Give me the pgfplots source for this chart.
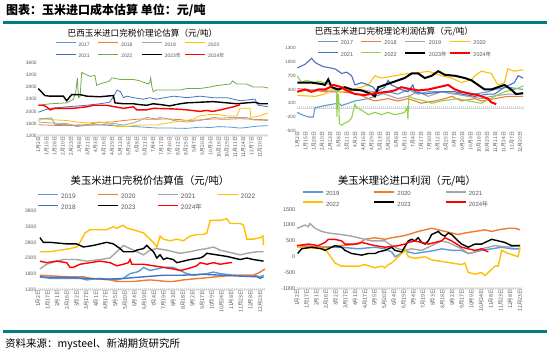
\documentclass[border=0pt]{standalone}
\usepackage{fontspec}
\setmainfont{Liberation Sans}
\newfontfamily\cjk{Noto Sans CJK SC}
\usepackage{pgfplots}
\pgfplotsset{compat=1.18}
\definecolor{cLB}{RGB}{91,155,213}
\definecolor{cOR}{RGB}{237,125,49}
\definecolor{cGR}{RGB}{165,165,165}
\definecolor{cYE}{RGB}{255,192,0}
\definecolor{cDB}{RGB}{68,114,196}
\definecolor{cGN}{RGB}{112,173,71}
\definecolor{cLG}{RGB}{146,208,80}
\definecolor{cRD}{RGB}{255,0,0}
\definecolor{cTL}{RGB}{0,125,125}
\definecolor{cTX}{RGB}{89,89,89}
\pgfplotsset{
  panel/.style={
    scale only axis, clip=false,
    axis line style={draw=none},
    tick style={draw=none},
    major tick length=0pt,
    /pgf/number format/assume math mode=true,
    /pgf/number format/1000 sep={},
    xticklabel style={rotate=90, anchor=east, inner sep=1pt, font=\cjk\fontsize{5}{5}\selectfont, text=cTX},
    yticklabel style={inner sep=1.5pt, font=\fontsize{4.8}{5}\selectfont, text=cTX},
    legend cell align=left,
    legend image code/.code={\draw[##1] (0pt,1.8pt) -- (20pt,1.8pt);},
    legend style={draw=none, fill=none, inner sep=0pt, font=\fontsize{5}{5}\selectfont, text=cTX,
       nodes={inner sep=0pt, text height=3.8pt, text depth=0pt},
       /tikz/every odd column/.append style={column sep=2.5pt},
       row sep=7pt},
  },
  th/.style={line width=0.8pt},
  tk/.style={line width=1.4pt},
}
\newcommand{\hatchaxis}[3]{%
  \draw[gray!30, line width=0.5pt] (axis cs:0,#1) -- (axis cs:#2,#1);
  \draw[gray!30, line width=#3, dash pattern=on 0.3pt off 1.7pt] (axis cs:0,#1) -- (axis cs:#2,#1);}
\begin{document}
\begin{tikzpicture}
\fill[white] (0pt,0pt) rectangle (550pt,350pt);
\node[anchor=west, inner sep=0pt] at (6pt,340pt) {\cjk\bfseries\fontsize{12}{13}\selectfont 图表：玉米进口成本估算\ 单位：元/吨};
\draw[cTL, line width=2.5pt] (3pt,327.3pt) -- (547pt,327.3pt);
\draw[cTL, line width=2.5pt] (3pt,18.3pt) -- (547pt,18.3pt);
\node[anchor=west, inner sep=0pt] at (5pt,5.5pt) {\cjk\fontsize{10.5}{11}\selectfont 资料来源：mysteel、新湖期货研究所};
\node[inner sep=0pt] at (142.5pt,316.5pt) {\cjk\fontsize{8.6}{9}\selectfont 巴西玉米进口完税价理论估算（元/吨）};
\node[inner sep=0pt] at (394pt,318pt) {\cjk\fontsize{8.6}{9}\selectfont 巴西玉米进口完税理论利润估算（元/吨）};
\node[inner sep=0pt] at (150pt,169pt) {\cjk\fontsize{10.3}{11}\selectfont 美玉米进口完税价估算值（元/吨）};
\node[inner sep=0pt] at (407pt,169pt) {\cjk\fontsize{10.3}{11}\selectfont 美玉米理论进口利润（元/吨）};

% ---------------- top left ----------------
\begin{axis}[panel, at={(38.3pt,214.3pt)}, anchor=south west, width=229.7pt, height=73pt,
  xmin=0, xmax=28, ymin=1200, ymax=3600, ytick={1200,1600,...,3600},
  xtick={0,...,27},
  xticklabels={1月2日,1月15日,1月28日,2月10日,2月23日,3月8日,3月21日,4月3日,4月16日,4月29日,5月13日,5月26日,6月8日,6月21日,7月4日,7月17日,7月30日,8月12日,8月25日,9月7日,9月20日,10月3日,10月16日,10月29日,11月11日,11月24日,12月7日,12月20日},
  legend columns=4,
  legend style={at={(0.073,1.28)}, anchor=north west},
  legend entries={\makebox[19.5pt][l]{2017},\makebox[19.5pt][l]{2018},\makebox[19.5pt][l]{2019},\makebox[19.5pt][l]{2020},\makebox[19.5pt][l]{2021},\makebox[19.5pt][l]{2022},\makebox[19.5pt][l]{2023{\cjk 年}},\makebox[19.5pt][l]{2024{\cjk 年}}},
]
\hatchaxis{1200}{28}{2.5pt}
\addplot[cLB, th] coordinates {(0,1750)(0.6,1760)(1.4,1780)(1.6,1780)(2.0,1580)(3,1560)(5,1540)(7,1560)(8.5,1540)(10,1520)(11.6,1500)(13,1480)(14,1460)(15,1450)(16.5,1450)(18,1440)(19.7,1480)(21,1470)(22,1500)(23.5,1480)(24.6,1450)(25.4,1470)(26.2,1500)(27,1520)(28,1530)};
\addplot[cOR, th] coordinates {(0,1560)(2,1540)(4,1540)(5.9,1560)(7.5,1640)(9,1650)(10.4,1700)(12.4,1750)(14,1740)(15.7,1750)(17.3,1730)(18.1,1700)(19.7,1720)(21.3,1750)(23,1740)(24.6,1760)(26.2,1740)(28,1720)};
\addplot[cGR, th] coordinates {(0,1650)(1.5,1620)(3.5,1600)(4.7,1500)(5.9,1540)(7.5,1560)(9.2,1600)(10.4,1550)(11.6,1620)(12.4,1700)(13.2,1800)(14.4,1750)(14.8,1800)(15.7,1760)(16.5,1700)(18.1,1650)(19.7,1700)(21.3,1800)(22.2,1780)(23.8,1800)(25.4,1800)(26.2,1720)(28,1700)};
\addplot[cYE, th] coordinates {(0,1700)(0.6,1750)(2,1720)(3.5,1700)(4.7,1650)(5.9,1620)(7.5,1650)(8.3,1600)(9.2,1550)(9.6,1500)(10.8,1500)(12.4,1550)(14.4,1550)(16.5,1650)(18.1,1700)(18.9,1750)(19.7,1850)(20.9,1900)(21.8,1900)(23,1850)(24.2,1850)(24.6,2100)(25.8,2100)(25.9,1800)(27,1850)(28,1950)};
\addplot[cDB, th] coordinates {(0,1970)(0.8,2050)(1.4,2100)(3.5,2150)(5.9,2200)(7.5,2250)(8.7,2300)(9.2,2500)(9.6,2700)(10,2650)(10.4,2450)(10.8,2500)(11.6,2450)(12.8,2400)(13.6,2450)(14.4,2400)(16.5,2500)(18.1,2450)(19.7,2500)(21.3,2450)(23,2450)(24.6,2350)(26.4,2400)(26.8,2200)(28,2150)};
\addplot[cGN, th] coordinates {(0,2200)(1.5,2250)(3.5,2280)(4.3,2400)(4.6,2700)(4.76,3100)(4.9,2450)(5.1,2500)(5.29,3280)(6.3,3150)(6.9,3180)(7.12,2850)(7.5,2900)(8.7,3000)(8.95,3100)(10,3050)(11.6,3050)(12.4,3000)(13.4,2900)(13.6,2950)(13.7,3100)(13.85,2800)(14.0,2650)(14.4,2700)(17.3,2700)(18.1,2750)(19.7,2750)(20.9,2800)(21.8,2850)(23.4,2900)(23.7,3000)(24.2,2900)(25.4,2900)(26.2,2800)(27.4,2800)(28,2770)};
\addplot[black, tk] coordinates {(0,2750)(0.8,2520)(1.4,2500)(3.05,2500)(3.46,2350)(4.07,2550)(5.1,2550)(5.9,2500)(7.5,2480)(8.3,2500)(9.15,2520)(9.35,2280)(10.4,2250)(11.6,2250)(12.4,2220)(13.2,2200)(14,2250)(15,2220)(16,2180)(17.3,2250)(18.1,2280)(19.7,2300)(21.3,2320)(22.2,2300)(23,2280)(24.2,2250)(25.4,2280)(26.4,2300)(27,2250)(28,2250)};
\addplot[cRD, tk] coordinates {(0,2200)(0.6,2200)(1.0,2150)(1.43,2050)(2.04,2100)(4.27,2100)(5.9,2150)(6.7,2200)(8.3,2200)(9.35,2150)(10.4,2100)(11.6,2150)(12.0,2050)(13.2,2050)(14.0,2100)(16.5,2080)(18.1,2050)(19.7,2000)(20.5,2030)(21.3,2000)(22.2,2050)(23,2100)(23.8,2150)(24.4,2200)(24.6,2220)};
\end{axis}

% ---------------- top right ----------------
\begin{axis}[panel, at={(297.3pt,219.3pt)}, anchor=south west, width=227pt, height=82.4pt,
  xmin=0, xmax=27.5, ymin=-500, ymax=1300, ytick={-500,-200,...,1300},
  yticklabel style={font=\fontsize{4.6}{5}\selectfont},
  xtick={0,...,27},
  xticklabels={1月2日,1月15日,1月28日,2月10日,2月23日,3月8日,3月21日,4月3日,4月16日,4月29日,5月13日,5月26日,6月8日,6月21日,7月4日,7月17日,7月30日,8月12日,8月25日,9月7日,9月20日,10月3日,10月16日,10月29日,11月11日,11月24日,12月7日,12月20日},
  legend columns=4,
  legend style={at={(0.087,1.097)}, anchor=north west, font=\fontsize{5.5}{6}\selectfont},
  legend entries={\makebox[20pt][l]{2017},\makebox[20pt][l]{2018},\makebox[20pt][l]{2019},\makebox[20pt][l]{2020},\makebox[20pt][l]{2021},\makebox[20pt][l]{2022},\makebox[20pt][l]{2023{\cjk 年}},\makebox[20pt][l]{2024{\cjk 年}}},
]
\hatchaxis{0}{27.5}{3pt}
\addplot[cLB, line width=1.1pt] coordinates {(0,-100)(0.53,-150)(1.33,-200)(1.94,-200)(2.14,0)(3.35,50)(4.97,100)(5.37,50)(6.18,100)(6.99,150)(8.6,200)(10.2,300)(11.0,350)(12.2,300)(13.4,400)(14.65,300)(15.86,350)(17.48,350)(19.1,300)(19.9,350)(21.5,300)(23.1,350)(23.9,400)(25.5,450)(27.36,400)};
\addplot[cOR, line width=1.1pt] coordinates {(0,420)(1.33,400)(3.35,350)(5.37,350)(7.39,300)(8.6,200)(9.4,150)(11.0,200)(12.2,150)(13.4,200)(14.25,150)(15.0,100)(16.67,150)(17.88,200)(18.7,250)(19.9,150)(21.5,200)(22.3,150)(23.9,200)(25.5,250)(27.36,250)};
\addplot[cGR, line width=1.1pt] coordinates {(0,350)(1.33,400)(5.37,350)(7.39,400)(9.4,350)(10.6,300)(12.2,200)(13.4,250)(14.65,350)(15.86,250)(17.48,350)(19.1,300)(20.7,250)(22.3,200)(23.5,250)(25.5,300)(27.36,300)};
\addplot[cYE, line width=1.1pt] coordinates {(0,270)(2.14,250)(3.35,300)(4.16,400)(5.37,350)(6.58,400)(7.79,450)(8.6,500)(9.4,700)(10.2,650)(11.8,700)(13.4,750)(14.25,750)(15.86,800)(17.48,700)(18.7,650)(19.9,550)(20.7,600)(21.1,600)(21.5,700)(22.3,800)(23.5,750)(24.3,500)(25.1,550)(25.5,850)(26.3,800)(27.36,830)};
\addplot[cDB, line width=1.1pt] coordinates {(0,870)(0.33,900)(0.93,950)(1.74,1080)(2.1,1000)(2.55,950)(3.15,900)(3.75,880)(4.56,850)(5.0,800)(5.37,750)(5.98,780)(6.58,700)(6.99,500)(7.79,550)(8.6,500)(9.2,450)(9.6,350)(10.6,450)(11.0,600)(11.4,500)(12.6,400)(13.4,350)(14.0,500)(14.25,350)(15.45,300)(17.48,350)(19.1,350)(19.9,300)(21.5,250)(23.1,300)(23.9,300)(25.1,450)(26.3,550)(26.75,700)(27.36,650)};
\addplot[cLG, line width=1.1pt] coordinates {(0,700)(0.5,550)(1.1,600)(2.1,550)(2.5,580)(3.35,550)(4.0,500)(4.56,400)(4.75,380)(4.8,-200)(4.9,300)(5.0,300)(5.1,-350)(5.4,-380)(5.8,-330)(6.2,-300)(6.58,-220)(6.99,80)(7.2,0)(7.8,-50)(8.6,-150)(9.4,-100)(10.2,-150)(11,-100)(11.8,-150)(12.6,-120)(13.0,-100)(13.3,0)(13.4,-250)(13.5,250)(14.2,200)(15.4,150)(16.3,100)(17.5,150)(19.5,200)(20.7,150)(22.3,100)(23.9,250)(25.1,350)(26.3,400)(27.4,480)};
\addplot[black, line width=2pt] coordinates {(0,550)(1.74,550)(2.95,520)(3.35,500)(3.75,620)(4.16,450)(4.97,400)(5.77,450)(6.58,400)(7.79,380)(9.0,300)(9.4,250)(9.8,450)(10.6,500)(11.4,550)(12.2,600)(13.0,650)(13.85,750)(14.65,750)(15.45,650)(16.27,700)(17.07,800)(17.88,720)(19.1,700)(20.3,650)(21.1,600)(21.9,500)(22.7,400)(23.5,400)(24.3,450)(25.1,500)(25.9,400)(26.5,300)(27.36,320)};
\addplot[cRD, line width=2pt] coordinates {(0,350)(0.93,400)(1.74,350)(2.55,400)(3.35,400)(3.96,450)(4.36,500)(5.37,450)(5.77,400)(6.99,300)(8.2,280)(9.4,320)(11.0,350)(11.8,380)(12.6,450)(13.4,420)(14.65,380)(15.86,400)(17.07,450)(18.28,500)(19.1,400)(19.9,350)(21.1,300)(21.9,280)(22.3,250)(23.1,200)(23.5,120)(24.1,80)};
\end{axis}

% ---------------- bottom left ----------------
\begin{axis}[panel, at={(38pt,60.7pt)}, anchor=south west, width=227pt, height=78.3pt,
  xmin=0, xmax=23.5, ymin=1300, ymax=3800, ytick={1300,1800,...,3800},
  yticklabel style={font=\fontsize{5}{5}\selectfont},
  xticklabel style={font=\cjk\fontsize{5.3}{5}\selectfont},
  xtick={0,...,23},
  xticklabels={1月2日,1月17日,2月1日,2月16日,3月2日,3月17日,4月1日,4月17日,5月5日,5月20日,6月4日,6月19日,7月4日,7月19日,8月3日,8月18日,9月2日,9月17日,10月9日,10月24日,11月8日,11月23日,12月8日,12月23日},
  legend columns=4,
  legend style={at={(-0.004,1.22)}, anchor=north west, font=\fontsize{6.5}{7}\selectfont, nodes={text height=4.6pt}, row sep=6pt},
  legend entries={\makebox[36pt][l]{2019},\makebox[36pt][l]{2020},\makebox[36pt][l]{2021},\makebox[36pt][l]{2022},\makebox[36pt][l]{2018},\makebox[36pt][l]{2023},\makebox[36pt][l]{2024{\cjk 年}}},
]
\hatchaxis{1300}{23.5}{2.5pt}
\addplot[cLB, tk] coordinates {(0.2,1700)(1.24,1650)(4.35,1650)(5.04,1600)(6.42,1650)(8.15,1600)(8.84,1650)(9.53,1800)(10.23,1850)(10.57,1900)(10.92,2000)(11.6,1900)(12.3,1950)(12.99,2000)(14.0,2000)(14.72,1900)(15.41,1800)(16.1,1750)(17.48,1800)(18.17,1850)(18.86,1800)(20.24,1750)(22.3,1750)(23.0,1700)(23.35,1750)};
\addplot[cOR, tk] coordinates {(0.2,1750)(2.97,1700)(4.7,1700)(5.39,1650)(7.46,1600)(8.15,1550)(9.88,1550)(11.6,1600)(13.33,1550)(14.0,1550)(15.06,1600)(16.79,1650)(18.5,1700)(20.24,1750)(22.3,1750)(23.0,1850)(23.5,1950)};
\addplot[cGR, tk] coordinates {(0.2,1950)(0.9,2100)(1.93,2200)(2.63,2250)(4.0,2250)(5.04,2200)(6.42,2250)(7.46,2300)(7.98,2450)(8.5,2600)(8.84,2700)(9.53,2600)(10.23,2500)(10.92,2400)(11.6,2550)(12.3,2600)(13.33,2550)(14.0,2500)(14.72,2450)(15.75,2500)(16.44,2550)(17.48,2600)(18.17,2650)(18.86,2550)(19.55,2500)(20.24,2450)(20.93,2400)(21.62,2450)(22.66,2500)(23.35,2500)};
\addplot[cYE, tk] coordinates {(0.2,2500)(1.24,2500)(2.28,2550)(3.32,2600)(4.0,2650)(4.35,2800)(4.87,3100)(5.39,3200)(6.42,3200)(7.11,3200)(7.8,3300)(8.15,3250)(8.5,3300)(8.84,3350)(9.19,3250)(9.88,3200)(10.92,3100)(11.26,3000)(11.6,2900)(11.95,2800)(12.3,2650)(12.64,3000)(12.99,2900)(13.68,2850)(14.37,2900)(15.06,2850)(15.75,3000)(16.44,3050)(17.13,3050)(17.48,3100)(17.82,3500)(18.86,3500)(19.55,3550)(19.9,3400)(20.93,3400)(21.28,3350)(21.62,2900)(22.3,2900)(23.0,2950)(23.28,3000)(23.35,2700)};
\addplot[cDB, tk] coordinates {(0.2,1700)(1.24,1680)(3,1680)(5,1650)(7,1620)(9,1650)(11,1700)(13,1750)(15,1750)(17,1780)(19,1750)(21,1720)(22.66,1700)(23.0,1650)(23.35,1700)};
\addplot[black, tk] coordinates {(0.2,2950)(0.55,2800)(1.24,2800)(2.97,2750)(4.0,2750)(4.7,2650)(5.73,2700)(6.42,2750)(7.11,2800)(7.8,2750)(8.5,2600)(8.84,2500)(9.88,2500)(10.23,2550)(10.92,2600)(11.26,2700)(11.6,2600)(11.95,2500)(12.3,2300)(12.64,2400)(12.99,2250)(13.33,2300)(14.0,2250)(14.37,2150)(15.06,2200)(15.75,2250)(16.79,2300)(17.13,2350)(17.48,2450)(18.5,2400)(19.55,2350)(20.24,2300)(20.93,2250)(21.62,2300)(22.3,2250)(23.35,2200)};
\addplot[cRD, tk] coordinates {(0.2,2200)(0.9,2150)(1.93,2200)(2.97,2150)(3.32,2000)(3.66,2000)(4.0,2050)(4.35,2100)(5.39,2150)(6.42,2200)(7.46,2150)(8.15,2050)(8.84,2100)(9.36,2150)(9.53,2250)(9.71,2100)(10.92,2100)(11.95,2050)(12.99,2000)(14.0,1950)(14.72,1900)(15.41,1950)(16.44,2050)(16.79,2150)(17.48,2100)(18.17,2150)(18.86,2100)(19.9,2150)(20.1,2150)};
\end{axis}

% ---------------- bottom right ----------------
\begin{axis}[panel, at={(297pt,61.7pt)}, anchor=south west, width=225pt, height=79pt,
  xmin=0, xmax=23.2, ymin=-1000, ymax=1500, ytick={-1000,-500,...,1500},
  yticklabel style={font=\fontsize{5.5}{6}\selectfont},
  xticklabel style={font=\cjk\fontsize{5.3}{5}\selectfont},
  xtick={0,...,23},
  xticklabels={1月2日,1月17日,2月1日,2月16日,3月2日,3月17日,4月1日,4月17日,5月5日,5月20日,6月4日,6月19日,7月4日,7月19日,8月3日,8月18日,9月2日,9月17日,10月9日,10月24日,11月8日,11月23日,12月8日,12月23日},
  legend columns=3,
  legend style={at={(0.022,1.23)}, anchor=north west, font=\fontsize{6}{7}\selectfont, nodes={text height=4.3pt}, row sep=5.5pt},
  legend entries={\makebox[47.5pt][l]{2019},\makebox[47.5pt][l]{2020},\makebox[47.5pt][l]{2021},\makebox[47.5pt][l]{2022},\makebox[47.5pt][l]{2023},\makebox[47.5pt][l]{2024{\cjk 年}}},
]
\hatchaxis{-1000}{23.2}{2.5pt}
\addplot[cLB, tk] coordinates {(0,350)(2.89,300)(4.6,300)(6.32,250)(8.04,300)(9.07,250)(9.76,150)(10.1,0)(10.45,50)(11.13,200)(11.48,150)(12.16,100)(13.2,150)(14.23,200)(14.9,250)(15.95,200)(16.98,200)(17.66,100)(18.35,150)(19.04,200)(20.07,250)(21.1,300)(22.13,250)(23.0,250)};
\addplot[cOR, tk] coordinates {(0,350)(2.89,300)(4.6,350)(6.32,400)(7.0,550)(8.04,600)(9.07,550)(9.76,600)(10.8,650)(11.48,700)(12.5,800)(13.2,850)(13.88,900)(14.57,850)(15.26,800)(15.95,750)(16.6,700)(17.3,750)(18.35,800)(19.38,850)(20.07,800)(20.76,850)(21.8,900)(22.48,900)(23.0,850)};
\addplot[cGR, tk] coordinates {(0,900)(0.82,1000)(1.17,950)(1.34,1050)(1.86,900)(2.54,800)(3.23,750)(4.6,700)(5.64,650)(6.32,600)(7.0,550)(7.7,500)(9.07,500)(9.76,350)(10.45,250)(11.13,200)(11.82,250)(12.85,200)(13.54,300)(14.23,400)(14.9,500)(15.6,450)(16.3,350)(16.98,250)(17.66,100)(18.35,150)(19.04,250)(19.73,300)(20.4,350)(21.8,300)(23.0,350)};
\addplot[cYE, tk] coordinates {(0,300)(2.89,250)(3.23,100)(3.92,-200)(4.6,-300)(6.32,-300)(7.0,-250)(8.04,-350)(8.73,-300)(9.07,-350)(9.4,-250)(9.76,-200)(10.1,-100)(10.45,0)(10.8,100)(11.13,250)(11.48,0)(12.16,-50)(13.2,0)(13.88,-100)(14.9,-150)(15.95,-200)(16.98,-250)(17.3,-200)(17.66,-500)(18.35,-550)(19.04,-500)(19.38,-600)(20.07,-400)(20.4,-300)(20.76,-300)(21.1,200)(21.8,100)(22.3,50)(22.8,0)(23.0,300)};
\addplot[black, tk] coordinates {(0.07,100)(0.48,250)(1.51,300)(2.54,250)(2.89,200)(3.58,300)(3.92,350)(4.6,300)(4.95,200)(5.64,100)(6.67,50)(7.35,100)(8.04,100)(8.38,150)(9.07,200)(9.76,300)(10.1,200)(10.8,150)(11.48,500)(11.82,550)(12.16,500)(12.5,600)(12.85,450)(13.2,400)(13.54,500)(13.88,700)(14.23,750)(14.57,800)(14.9,700)(15.26,650)(15.6,750)(15.95,700)(16.6,500)(16.98,400)(17.66,300)(18.35,400)(19.04,400)(19.73,500)(20.07,550)(20.76,500)(21.44,450)(22.13,350)(23.0,350)};
\addplot[cRD, tk] coordinates {(0,350)(1.17,400)(2.2,350)(2.89,450)(3.23,550)(3.92,550)(4.6,500)(4.95,400)(5.98,400)(6.67,450)(8.04,350)(9.07,300)(10.45,350)(11.13,400)(11.48,450)(12.16,500)(12.85,450)(13.54,400)(14.23,450)(14.9,500)(15.26,600)(15.95,500)(16.98,300)(17.66,250)(18.35,200)(19.04,250)(19.73,150)};
\end{axis}
\end{tikzpicture}
\end{document}
